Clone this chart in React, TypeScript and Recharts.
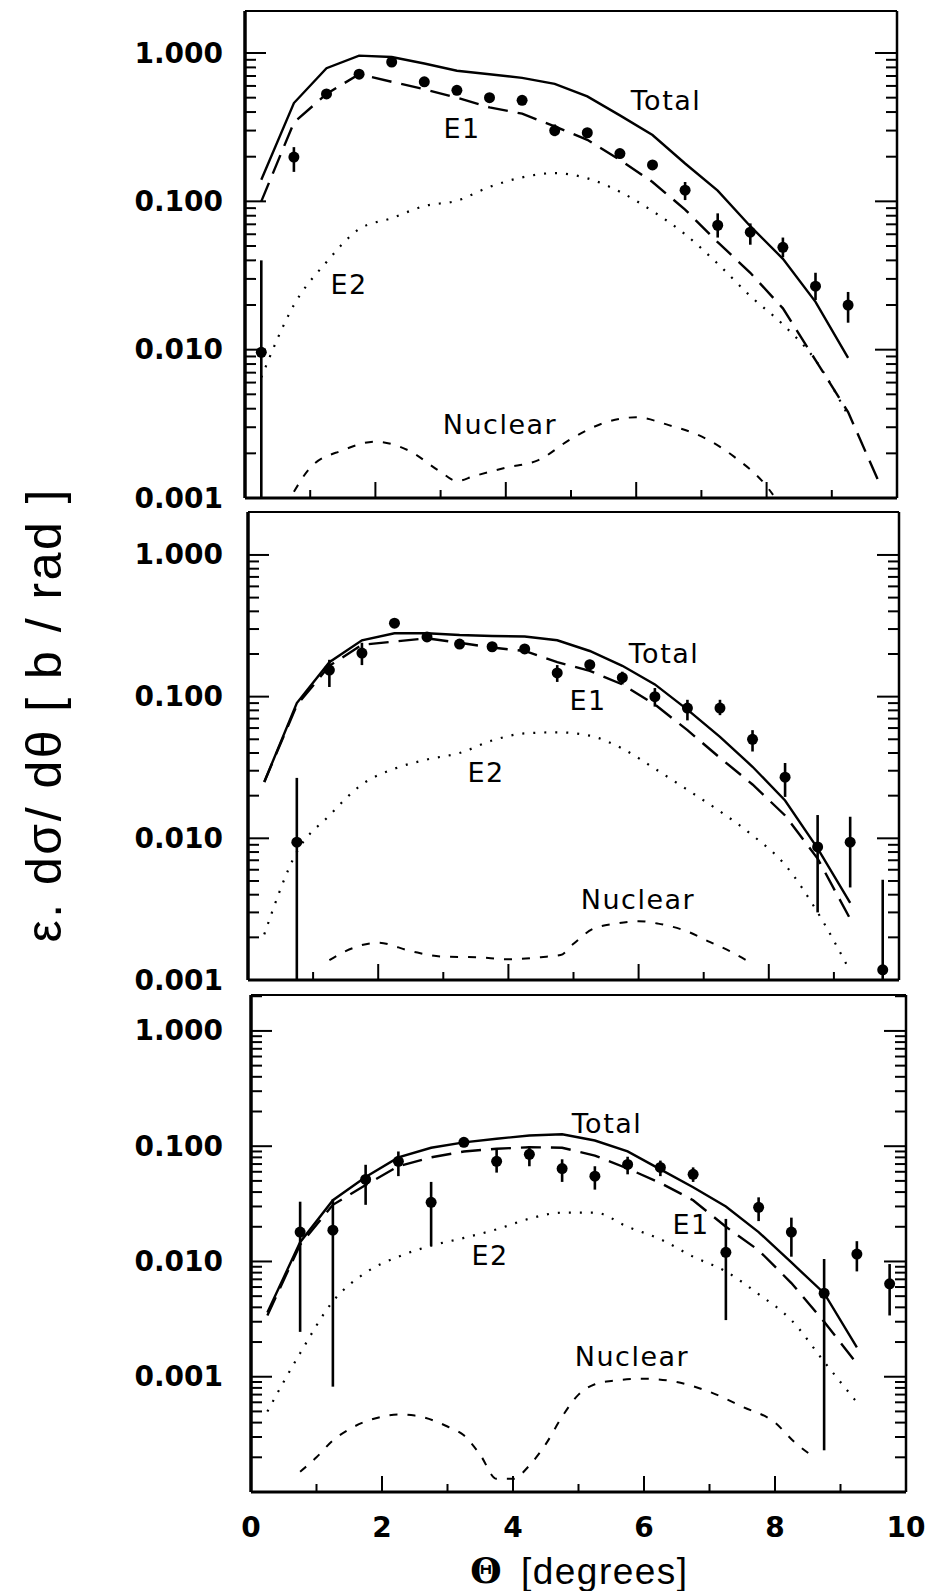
import { ComposedChart, Line, Scatter, ErrorBar, XAxis, YAxis } from 'recharts'

// bin centres (degrees)
const CURVE_THETA = [0.25, 0.75, 1.25, 1.75, 2.25, 2.75, 3.25, 3.75, 4.25, 4.75, 5.25, 5.75, 6.25, 6.75, 7.25, 7.75, 8.25, 8.75, 9.25]
const E1_THETA_TOP = [...CURVE_THETA, 9.75]
const POINT_THETA_TOP = CURVE_THETA
const POINT_THETA = [0.75, 1.25, 1.75, 2.25, 2.75, 3.25, 3.75, 4.25, 4.75, 5.25, 5.75, 6.25, 6.75, 7.25, 7.75, 8.25, 8.75, 9.25, 9.75]

// panel 1
const P1_DATA = [0.0096, 0.199, 0.53, 0.72, 0.87, 0.64, 0.56, 0.5, 0.48, 0.3, 0.29, 0.21, 0.176, 0.119, 0.069, 0.062, 0.049, 0.0268, 0.02]
const P1_LO = [0.001, 0.158, 0.5, 0.68, 0.82, 0.6, 0.53, 0.47, 0.45, 0.275, 0.27, 0.195, 0.163, 0.102, 0.057, 0.051, 0.042, 0.0216, 0.0152]
const P1_HI = [0.04, 0.232, 0.56, 0.76, 0.92, 0.68, 0.59, 0.53, 0.51, 0.33, 0.31, 0.225, 0.19, 0.135, 0.083, 0.071, 0.057, 0.033, 0.0245]
const P1_TOTAL = [0.14, 0.46, 0.79, 0.96, 0.94, 0.85, 0.76, 0.72, 0.68, 0.62, 0.51, 0.38, 0.28, 0.18, 0.118, 0.068, 0.041, 0.021, 0.0088]
const P1_E1 = [0.1, 0.34, 0.53, 0.72, 0.64, 0.57, 0.5, 0.43, 0.39, 0.32, 0.26, 0.19, 0.135, 0.088, 0.053, 0.033, 0.019, 0.0085, 0.0038, 0.0012]
const P1_E2 = [0.0065, 0.02, 0.039, 0.065, 0.077, 0.093, 0.101, 0.125, 0.145, 0.155, 0.143, 0.116, 0.086, 0.06, 0.038, 0.023, 0.0148, 0.0085, 0.0036]
const P1_NUC_THETA = [0.75, 1.0, 1.5, 2.0, 2.5, 3.0, 3.25, 3.5, 4.0, 4.5, 5.0, 5.5, 6.0, 6.5, 7.0, 7.5, 8.0, 8.1]
const P1_NUC = [0.0011, 0.0016, 0.0021, 0.0024, 0.0021, 0.0015, 0.0013, 0.0014, 0.0016, 0.0018, 0.0025, 0.0032, 0.0035, 0.0031, 0.0026, 0.0019, 0.0012, 0.00105]

// panel 2
const P2_DATA = [0.0094, 0.154, 0.203, 0.33, 0.264, 0.235, 0.225, 0.217, 0.147, 0.168, 0.136, 0.1, 0.083, 0.083, 0.05, 0.027, 0.0087, 0.0094, 0.00118]
const P2_LO = [0.001, 0.117, 0.167, 0.31, 0.25, 0.222, 0.21, 0.205, 0.127, 0.155, 0.122, 0.085, 0.068, 0.074, 0.041, 0.0196, 0.003, 0.0045, 0.001]
const P2_HI = [0.0267, 0.182, 0.24, 0.35, 0.28, 0.25, 0.24, 0.23, 0.167, 0.182, 0.15, 0.115, 0.095, 0.095, 0.058, 0.034, 0.0146, 0.0142, 0.0051]
const P2_TOTAL = [0.025, 0.09, 0.175, 0.25, 0.28, 0.28, 0.272, 0.268, 0.266, 0.25, 0.21, 0.165, 0.122, 0.081, 0.052, 0.032, 0.0185, 0.0085, 0.0035]
const P2_E1 = [0.025, 0.087, 0.165, 0.232, 0.245, 0.258, 0.24, 0.222, 0.21, 0.175, 0.152, 0.122, 0.088, 0.058, 0.037, 0.024, 0.0145, 0.0072, 0.0027]
const P2_E2 = [0.0021, 0.008, 0.0145, 0.024, 0.031, 0.036, 0.04, 0.049, 0.055, 0.056, 0.053, 0.043, 0.031, 0.022, 0.0155, 0.0105, 0.0065, 0.003, 0.00115]
const P2_NUC_THETA = [1.25, 1.5, 2.0, 2.5, 3.0, 3.5, 4.0, 4.5, 4.8, 5.0, 5.3, 5.65, 6.0, 6.3, 6.75, 7.1, 7.4, 7.75]
const P2_NUC = [0.00138, 0.0016, 0.00183, 0.0016, 0.00146, 0.00145, 0.0014, 0.00145, 0.0015, 0.0018, 0.0023, 0.0025, 0.0026, 0.0025, 0.0022, 0.00185, 0.0016, 0.0013]

// panel 3
const P3_DATA = [0.018, 0.0187, 0.0515, 0.074, 0.0326, 0.108, 0.074, 0.085, 0.064, 0.055, 0.0695, 0.0655, 0.057, 0.012, 0.0295, 0.018, 0.0053, 0.0116, 0.0064]
const P3_LO = [0.00245, 0.00082, 0.031, 0.055, 0.0137, 0.1, 0.059, 0.067, 0.049, 0.042, 0.057, 0.055, 0.049, 0.0031, 0.0224, 0.011, 0.00023, 0.0082, 0.0034]
const P3_HI = [0.033, 0.0346, 0.069, 0.09, 0.049, 0.116, 0.094, 0.1, 0.077, 0.067, 0.081, 0.075, 0.0655, 0.0234, 0.036, 0.024, 0.0105, 0.015, 0.0095]
const P3_TOTAL = [0.0036, 0.0147, 0.034, 0.054, 0.08, 0.097, 0.108, 0.116, 0.124, 0.127, 0.112, 0.09, 0.063, 0.044, 0.03, 0.018, 0.0098, 0.0053, 0.0018]
const P3_E1 = [0.0034, 0.014, 0.031, 0.046, 0.067, 0.08, 0.09, 0.095, 0.098, 0.097, 0.083, 0.064, 0.048, 0.034, 0.02, 0.0125, 0.0065, 0.003, 0.0013]
const P3_E2 = [0.0005, 0.0016, 0.0045, 0.008, 0.011, 0.0137, 0.016, 0.019, 0.0235, 0.0265, 0.0265, 0.02, 0.0156, 0.011, 0.0082, 0.0052, 0.0031, 0.00135, 0.0006]
const P3_NUC_THETA = [0.75, 1.0, 1.25, 1.5, 2.0, 2.25, 2.5, 3.0, 3.25, 3.5, 3.75, 4.0, 4.25, 4.5, 4.75, 5.0, 5.25, 5.5, 6.0, 6.5, 7.0, 7.5, 8.0, 8.3, 8.6]
const P3_NUC = [0.00015, 0.0002, 0.00028, 0.00035, 0.00045, 0.00047, 0.00046, 0.00037, 0.00031, 0.00021, 0.00013, 0.00013, 0.00017, 0.00026, 0.00045, 0.0007, 0.00086, 0.00092, 0.00096, 0.0009, 0.00074, 0.00055, 0.0004, 0.00027, 0.0002]

const X_TICKS = [0, 1, 2, 3, 4, 5, 6, 7, 8, 9, 10]
const X_LABELS = [0, 2, 4, 6, 8, 10]
const TOP_TICKS = [1, 2, 3, 4, 5]
const Y_LABELS = [0.001, 0.01, 0.1, 1]

const SANS = '"DejaVu Sans", sans-serif'

type Pt = { x: number; v: number; err?: [number, number] }

const pairs = (xs: number[], ys: number[]): Pt[] => xs.map((x, i) => ({ x, v: ys[i] }))
const points = (xs: number[], ys: number[], lo: number[], hi: number[]): Pt[] =>
  xs.map((x, i) => ({ x, v: ys[i], err: [ys[i] - lo[i], hi[i] - ys[i]] }))

function logTicks(min: number, max: number) {
  const out: number[] = []
  for (let k = Math.round(Math.log10(min)); 10 ** k <= max; k++) {
    for (let m = 1; m <= 9; m++) {
      const t = Number((m * 10 ** k).toPrecision(6))
      if (t >= min && t <= max * 0.98) out.push(t)
    }
  }
  return out
}

const isDecade = (v: number) => Math.abs(Math.log10(v) - Math.round(Math.log10(v))) < 1e-6

interface PanelCfg {
  top: number
  bottom: number
  left: number
  right: number
  yDomain: [number, number]
  data: Pt[]
  total: Pt[]
  e1: Pt[]
  e2: Pt[]
  nuclear: Pt[]
  labels: { text: string; x: number; y: number }[]
  xLabels?: boolean
}

const PANELS: PanelCfg[] = [
  {
    top: 11, bottom: 498, left: 245, right: 897, yDomain: [0.001, 1.92],
    data: points(POINT_THETA_TOP, P1_DATA, P1_LO, P1_HI),
    total: pairs(CURVE_THETA, P1_TOTAL),
    e1: pairs(E1_THETA_TOP, P1_E1),
    e2: pairs(CURVE_THETA, P1_E2),
    nuclear: pairs(P1_NUC_THETA, P1_NUC),
    labels: [
      { text: 'Total', x: 666, y: 100 },
      { text: 'E1', x: 462, y: 128 },
      { text: 'E2', x: 349, y: 284 },
      { text: 'Nuclear', x: 500, y: 424 },
    ],
  },
  {
    top: 512, bottom: 980, left: 248, right: 899, yDomain: [0.001, 2.01],
    data: points(POINT_THETA, P2_DATA, P2_LO, P2_HI),
    total: pairs(CURVE_THETA, P2_TOTAL),
    e1: pairs(CURVE_THETA, P2_E1),
    e2: pairs(CURVE_THETA, P2_E2),
    nuclear: pairs(P2_NUC_THETA, P2_NUC),
    labels: [
      { text: 'Total', x: 664, y: 653 },
      { text: 'E1', x: 588, y: 700 },
      { text: 'E2', x: 486, y: 772 },
      { text: 'Nuclear', x: 638, y: 899 },
    ],
  },
  {
    top: 995, bottom: 1492, left: 251, right: 906, yDomain: [0.0001, 2.05],
    data: points(POINT_THETA, P3_DATA, P3_LO, P3_HI),
    total: pairs(CURVE_THETA, P3_TOTAL),
    e1: pairs(CURVE_THETA, P3_E1),
    e2: pairs(CURVE_THETA, P3_E2),
    nuclear: pairs(P3_NUC_THETA, P3_NUC),
    labels: [
      { text: 'Total', x: 607, y: 1123 },
      { text: 'E1', x: 691, y: 1224 },
      { text: 'E2', x: 490, y: 1255 },
      { text: 'Nuclear', x: 632, y: 1356 },
    ],
    xLabels: true,
  },
]

function Panel({ cfg }: { cfg: PanelCfg }) {
  const pad = 18
  const plotH = cfg.bottom - cfg.top
  const height = plotH + pad * 2 + (cfg.xLabels ? 60 : 0)
  const yTicks = logTicks(cfg.yDomain[0], cfg.yDomain[1])

  const leftTick = (p: any) => {
    const major = isDecade(p.payload.value)
    const labelled = Y_LABELS.some((l) => Math.abs(l - p.payload.value) < 1e-9)
    return (
      <g>
        <line x1={p.x} x2={p.x + (major ? 21 : 11)} y1={p.y} y2={p.y} stroke="#000" strokeWidth={2} />
        {labelled && (
          <text x={223} y={p.y} textAnchor="end" dominantBaseline="central" fontFamily={SANS} fontWeight="bold" fontSize={28} fill="#000">
            {p.payload.value.toFixed(3)}
          </text>
        )}
      </g>
    )
  }
  const rightTick = (p: any) => {
    const major = isDecade(p.payload.value)
    return <line x1={p.x} x2={p.x - (major ? 22 : 11)} y1={p.y} y2={p.y} stroke="#000" strokeWidth={2} />
  }
  const bottomTick = (p: any) => {
    const v = p.payload.value
    const inner = v > 0 && v < 10
    return (
      <g>
        {inner && <line x1={p.x} x2={p.x} y1={p.y} y2={p.y - (v % 2 === 0 ? 16 : 8)} stroke="#000" strokeWidth={2} />}
        {cfg.xLabels && X_LABELS.includes(v) && (
          <text x={p.x} y={p.y + 35} textAnchor="middle" dominantBaseline="central" fontFamily={SANS} fontWeight="bold" fontSize={28} fill="#000">
            {v}
          </text>
        )}
      </g>
    )
  }
  const topTick = (p: any) => {
    const v = p.payload.value
    return <line x1={p.x} x2={p.x} y1={p.y} y2={p.y + (v % 2 === 0 ? 16 : 8)} stroke="#000" strokeWidth={2} />
  }

  return (
    <div style={{ position: 'absolute', left: 0, top: cfg.top - pad }}>
      <ComposedChart
        width={932}
        height={height}
        margin={{ top: pad - 1, bottom: height - pad - plotH - 1, left: 0, right: 932 - cfg.right - 1 }}
      >
        <XAxis xAxisId="b" type="number" dataKey="x" domain={[0, 10]} allowDataOverflow ticks={X_TICKS} interval={0}
          height={1} tickSize={0} tickMargin={0} tickLine={false} axisLine={{ stroke: '#000', strokeWidth: 3 }} tick={bottomTick} />
        <XAxis xAxisId="t" orientation="top" type="number" domain={[0, 6]} allowDataOverflow ticks={TOP_TICKS} interval={0}
          height={1} tickSize={0} tickMargin={0} tickLine={false} axisLine={{ stroke: '#000', strokeWidth: 2 }} tick={topTick} />
        <YAxis yAxisId="l" type="number" dataKey="v" scale="log" domain={cfg.yDomain} allowDataOverflow ticks={yTicks} interval={0}
          width={cfg.left} tickSize={0} tickMargin={0} tickLine={false} axisLine={{ stroke: '#000', strokeWidth: 3.5 }} tick={leftTick} />
        <YAxis yAxisId="r" orientation="right" type="number" scale="log" domain={cfg.yDomain} allowDataOverflow ticks={yTicks} interval={0}
          width={1} tickSize={0} tickMargin={0} tickLine={false} axisLine={{ stroke: '#000', strokeWidth: 2.5 }} tick={rightTick} />

        <Line xAxisId="b" yAxisId="l" data={cfg.total} dataKey="v" type="linear" stroke="#000" strokeWidth={2.4} dot={false} isAnimationActive={false} />
        <Line xAxisId="b" yAxisId="l" data={cfg.e1} dataKey="v" type="linear" stroke="#000" strokeWidth={2.4} strokeDasharray="20 10" dot={false} isAnimationActive={false} />
        <Line xAxisId="b" yAxisId="l" data={cfg.e2} dataKey="v" type="monotone" stroke="#000" strokeWidth={2.2} strokeDasharray="2 9" dot={false} isAnimationActive={false} />
        <Line xAxisId="b" yAxisId="l" data={cfg.nuclear} dataKey="v" type="monotone" stroke="#000" strokeWidth={2} strokeDasharray="8 10" dot={false} isAnimationActive={false} />
        <Scatter
          xAxisId="b"
          yAxisId="l"
          data={cfg.data}
          isAnimationActive={false}
          shape={(p: any) => <circle cx={p.cx} cy={p.cy} r={5.5} fill="#000" />}
        >
          <ErrorBar dataKey="err" direction="y" width={0} stroke="#000" strokeWidth={2.6} isAnimationActive={false} />
        </Scatter>
      </ComposedChart>
    </div>
  )
}

export default function App() {
  return (
    <div style={{ position: 'absolute', left: 0, top: 0, width: 932, height: 1591, background: '#fff' }}>
      {PANELS.map((cfg, i) => (
        <Panel key={i} cfg={cfg} />
      ))}
      <svg width={932} height={1591} style={{ position: 'absolute', left: 0, top: 0, pointerEvents: 'none' }}>
        {PANELS.flatMap((cfg) => cfg.labels).map((l, i) => (
          <text key={i} x={l.x} y={l.y} textAnchor="middle" dominantBaseline="central" fontFamily={SANS} fontSize={27} letterSpacing={1.5} fill="#000">
            {l.text}
          </text>
        ))}
        <text
          transform="translate(61, 716) rotate(-90)"
          textAnchor="middle"
          fontFamily='"Liberation Sans", Arial, sans-serif'
          fontSize={50}
          textLength={453}
          lengthAdjust="spacing"
          fill="#000"
        >
          ε. dσ/ dθ [ b / rad ]
        </text>
        <text x={486} y={1583} textAnchor="middle" fontFamily='"DejaVu Serif", serif' fontWeight="bold" fontSize={36} fill="#000">
          Θ
        </text>
        <text x={521} y={1584} fontFamily='"Liberation Sans", Arial, sans-serif' fontSize={37} textLength={166} lengthAdjust="spacing" fill="#000">
          [degrees]
        </text>
      </svg>
    </div>
  )
}
